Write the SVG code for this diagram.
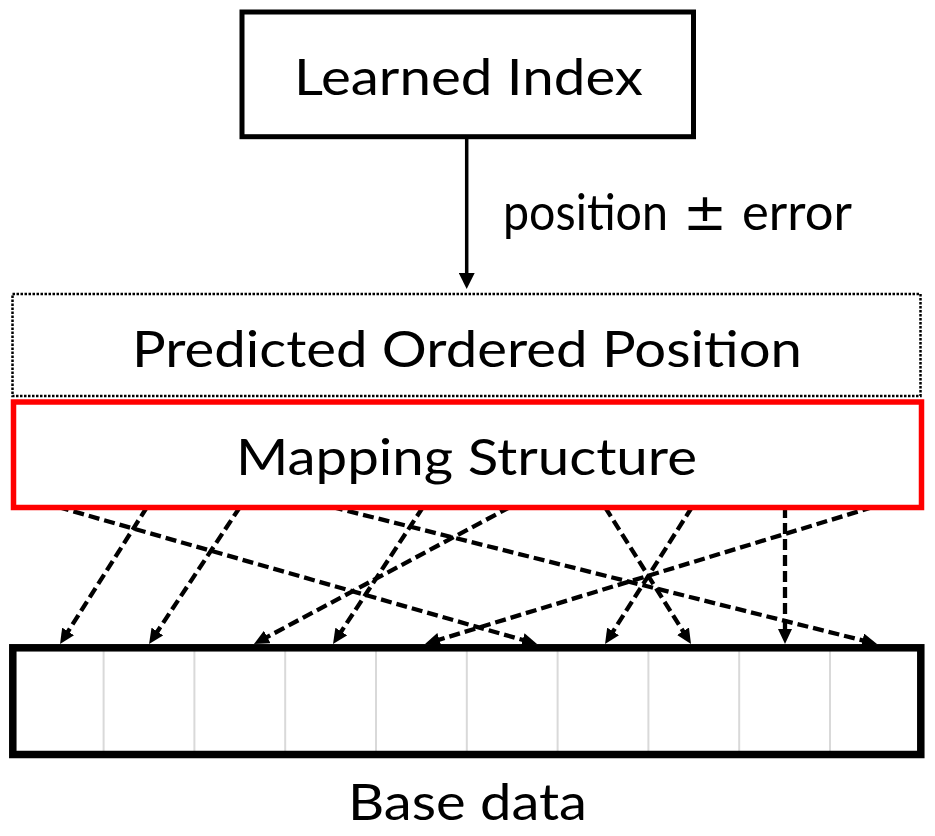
<svg xmlns="http://www.w3.org/2000/svg" width="935" height="836" viewBox="0 0 935 836">
<style>
  .lbl { font-family: Lato, "Open Sans", "Liberation Sans", sans-serif; font-size: 51px; fill: #000; }
  .sym { font-family: "DejaVu Sans", "Liberation Sans", sans-serif; font-size: 52px; fill: #000; }
  .dash { fill: none; stroke: #000; stroke-width: 4.3; stroke-dasharray: 11 5; marker-end: url(#ahd); }
  .cell { stroke: #d9d9d9; stroke-width: 2; }
</style>
<defs>
  <marker id="ahd" markerUnits="userSpaceOnUse" markerWidth="15" markerHeight="14" refX="5" refY="7" orient="auto" viewBox="0 0 15 14">
    <path d="M0,0 L15,7 L0,14 z" fill="#000"/>
  </marker>
  <marker id="ahs" markerUnits="userSpaceOnUse" markerWidth="16" markerHeight="16" refX="6" refY="8" orient="auto" viewBox="0 0 16 16">
    <path d="M0,0 L16,8 L0,16 z" fill="#000"/>
  </marker>
</defs>
<rect width="935" height="836" fill="#fff"/>

<g id="connectors">
  <line x1="466.7" y1="139" x2="466.7" y2="279" stroke="#000" stroke-width="3.5" marker-end="url(#ahs)"/>
  <line class="dash" x1="58" y1="507" x2="527.4" y2="641.3"/>
  <line class="dash" x1="147" y1="507" x2="65.4" y2="635.6"/>
  <line class="dash" x1="240" y1="507" x2="154.6" y2="635.7"/>
  <line class="dash" x1="332" y1="507" x2="867.3" y2="641.6"/>
  <line class="dash" x1="423" y1="507" x2="338.5" y2="635.7"/>
  <line class="dash" x1="510" y1="507" x2="262.8" y2="639.3"/>
  <line class="dash" x1="873" y1="507" x2="434.6" y2="641.1"/>
  <line class="dash" x1="605" y1="507" x2="685.7" y2="635.5"/>
  <line class="dash" x1="692" y1="507" x2="610.4" y2="635.6"/>
  <line class="dash" x1="785" y1="507" x2="785" y2="634"/>
  <text class="lbl" y="230"><tspan x="503" textLength="165" lengthAdjust="spacingAndGlyphs">position</tspan><tspan class="sym" x="683" textLength="44" lengthAdjust="spacingAndGlyphs">±</tspan><tspan x="742" textLength="110" lengthAdjust="spacingAndGlyphs">error</tspan></text>
</g>

<g id="learned-index">
  <rect x="242" y="12" width="451.5" height="124.7" fill="#fff" stroke="#000" stroke-width="5"/>
  <text class="lbl" x="468.5" y="95" text-anchor="middle" textLength="349" lengthAdjust="spacingAndGlyphs">Learned Index</text>
</g>

<g id="predicted-position">
  <rect x="12.5" y="294" width="908" height="102" fill="none" stroke="#000" stroke-width="2.5" stroke-dasharray="2.5 1.5"/>
  <text class="lbl" x="467" y="367" text-anchor="middle" textLength="670" lengthAdjust="spacingAndGlyphs">Predicted Ordered Position</text>
</g>

<g id="mapping-structure">
  <rect x="13.5" y="402" width="908" height="105.5" fill="none" stroke="#ff0000" stroke-width="5.5"/>
  <text class="lbl" x="466.5" y="475" text-anchor="middle" textLength="461" lengthAdjust="spacingAndGlyphs">Mapping Structure</text>
</g>

<g id="base-data">
  <rect x="12.8" y="647.8" width="908" height="106.7" fill="#fff" stroke="none"/>
  <line class="cell" x1="103.6" y1="651" x2="103.6" y2="751"/>
  <line class="cell" x1="194.4" y1="651" x2="194.4" y2="751"/>
  <line class="cell" x1="285.2" y1="651" x2="285.2" y2="751"/>
  <line class="cell" x1="376" y1="651" x2="376" y2="751"/>
  <line class="cell" x1="466.8" y1="651" x2="466.8" y2="751"/>
  <line class="cell" x1="557.6" y1="651" x2="557.6" y2="751"/>
  <line class="cell" x1="648.4" y1="651" x2="648.4" y2="751"/>
  <line class="cell" x1="739.2" y1="651" x2="739.2" y2="751"/>
  <line class="cell" x1="830" y1="651" x2="830" y2="751"/>
  <rect x="12.8" y="647.8" width="908" height="106.7" fill="none" stroke="#000" stroke-width="7.5"/>
  <text class="lbl" x="467.5" y="820" text-anchor="middle" textLength="239" lengthAdjust="spacingAndGlyphs">Base data</text>
</g>
</svg>
